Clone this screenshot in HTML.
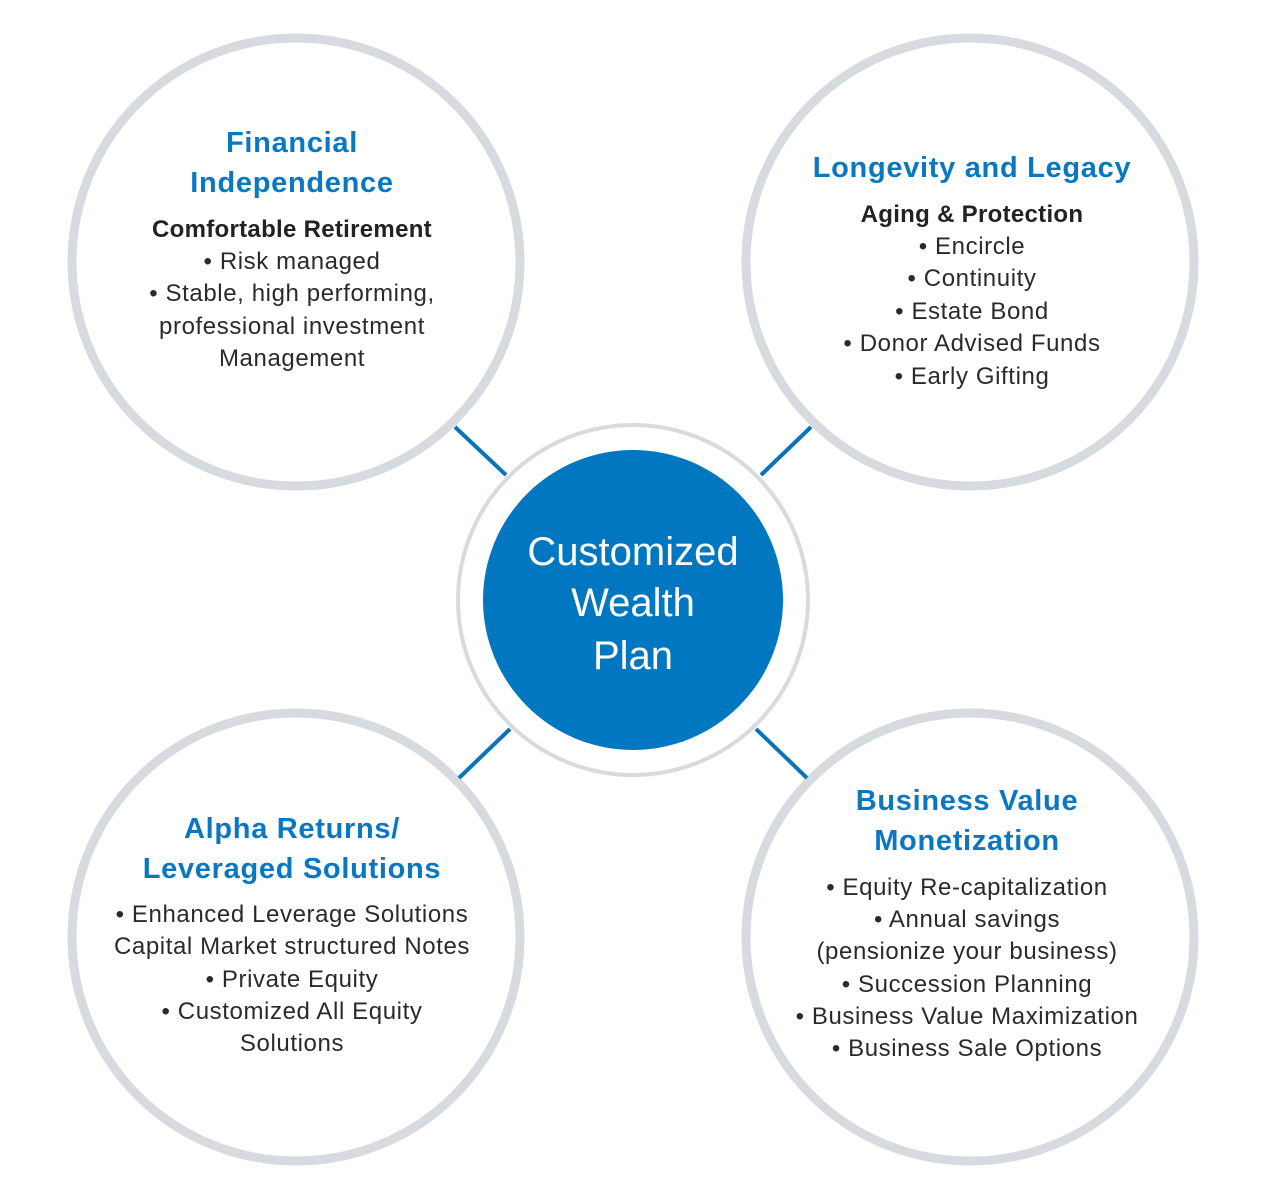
<!DOCTYPE html>
<html><head><meta charset="utf-8"><style>
html,body{margin:0;padding:0;background:#fff;}
svg{display:block;}
.h{font-family:"Liberation Sans",sans-serif;font-weight:bold;fill:#0a78c0;font-size:29px;letter-spacing:0.7px;text-anchor:middle;}
.s{font-family:"Liberation Sans",sans-serif;font-weight:bold;fill:#222;font-size:24px;letter-spacing:0.3px;text-anchor:middle;}
.b{font-family:"Liberation Sans",sans-serif;fill:#2a2a2a;font-size:24px;letter-spacing:0.6px;text-anchor:middle;}
.c{font-family:"Liberation Sans",sans-serif;fill:#fff;font-size:40px;text-anchor:middle;}
</style></head><body>
<svg width="1266" height="1200" viewBox="0 0 1266 1200">
<g stroke="#d7dadf" stroke-width="9" fill="#fff">
<circle cx="296" cy="262" r="224"/>
<circle cx="970" cy="262" r="224"/>
<circle cx="296" cy="937" r="224"/>
<circle cx="970" cy="937" r="224"/>
</g>
<g stroke="#0a74bb" stroke-width="4">
<line x1="455" y1="427" x2="506" y2="475"/>
<line x1="811" y1="427" x2="761" y2="475"/>
<line x1="510" y1="729" x2="459" y2="778"/>
<line x1="756" y1="729" x2="807" y2="778"/>
</g>
<circle cx="633" cy="600" r="175" fill="#fff" stroke="#d7dadf" stroke-width="4"/>
<circle cx="633" cy="600" r="150" fill="#0077c0"/>
<text class="c" x="633" y="565">Customized</text>
<text class="c" x="633" y="616">Wealth</text>
<text class="c" x="633" y="669">Plan</text>

<text class="h" x="292" y="152">Financial</text>
<text class="h" x="292" y="192">Independence</text>
<text class="s" x="292" y="237">Comfortable Retirement</text>
<text class="b" x="292" y="269">• Risk managed</text>
<text class="b" x="292" y="301">• Stable, high performing,</text>
<text class="b" x="292" y="334">professional investment</text>
<text class="b" x="292" y="366">Management</text>

<text class="h" x="972" y="177">Longevity and Legacy</text>
<text class="s" x="972" y="222">Aging &amp; Protection</text>
<text class="b" x="972" y="254">• Encircle</text>
<text class="b" x="972" y="286">• Continuity</text>
<text class="b" x="972" y="319">• Estate Bond</text>
<text class="b" x="972" y="351">• Donor Advised Funds</text>
<text class="b" x="972" y="384">• Early Gifting</text>

<text class="h" x="292" y="838">Alpha Returns/</text>
<text class="h" x="292" y="878">Leveraged Solutions</text>
<text class="b" x="292" y="922">• Enhanced Leverage Solutions</text>
<text class="b" x="292" y="954">Capital Market structured Notes</text>
<text class="b" x="292" y="987">• Private Equity</text>
<text class="b" x="292" y="1019">• Customized All Equity</text>
<text class="b" x="292" y="1051">Solutions</text>

<text class="h" x="967" y="810">Business Value</text>
<text class="h" x="967" y="850">Monetization</text>
<text class="b" x="967" y="895">• Equity Re-capitalization</text>
<text class="b" x="967" y="927">• Annual savings</text>
<text class="b" x="967" y="959">(pensionize your business)</text>
<text class="b" x="967" y="992">• Succession Planning</text>
<text class="b" x="967" y="1024">• Business Value Maximization</text>
<text class="b" x="967" y="1056">• Business Sale Options</text>
</svg>
</body></html>
